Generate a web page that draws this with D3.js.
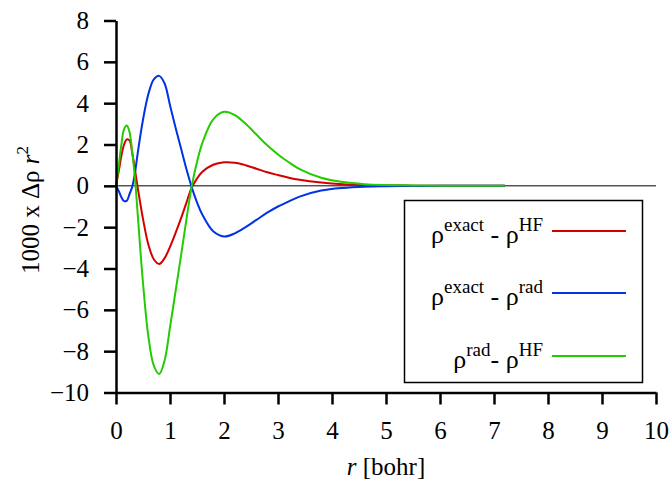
<!DOCTYPE html>
<html>
<head>
<meta charset="utf-8">
<script src="https://cdn.jsdelivr.net/npm/d3@7"></script>
<style>
  body { margin: 0; background: #fff; }
  svg, svg text { font-family: "Liberation Serif", "Times New Roman", Times, serif; }
</style>
</head>
<body>
<svg width="671" height="485"></svg>
<script>
// r values (bohr) shared by the three curves
const rVals = [0, 0.05, 0.1, 0.15, 0.2, 0.25, 0.3, 0.35, 0.4, 0.5, 0.6, 0.7, 0.8, 0.9, 1.0, 1.1, 1.2, 1.3, 1.4, 1.5, 1.6, 1.8, 2.0, 2.2, 2.4, 2.6, 2.8, 3.0, 3.2, 3.4, 3.8, 4.2, 4.6, 5.0, 5.5, 6.0, 6.5, 7.0, 7.2];

const exactMinusHF = [0, 0.7, 1.45, 2.0, 2.25, 2.2, 1.6, 0.8, -0.05, -1.6, -2.85, -3.55, -3.78, -3.5, -2.95, -2.3, -1.6, -0.85, -0.1, 0.35, 0.68, 1.02, 1.14, 1.12, 1.0, 0.83, 0.66, 0.52, 0.39, 0.29, 0.16, 0.08, 0.04, 0.02, 0.01, 0, 0, 0, 0];
const exactMinusRad = [0, -0.25, -0.55, -0.74, -0.72, -0.4, -0.05, 0.6, 1.55, 3.2, 4.45, 5.15, 5.32, 4.95, 3.9, 2.85, 1.85, 0.85, -0.05, -0.8, -1.4, -2.2, -2.45, -2.3, -2.0, -1.65, -1.3, -1.0, -0.75, -0.52, -0.23, -0.1, -0.04, -0.02, -0.01, 0, 0, 0, 0];
const radMinusHF = [0, 0.95, 2.0, 2.74, 2.92, 2.6, 1.65, 0.4, -1.3, -4.7, -7.3, -8.7, -9.1, -8.45, -6.85, -5.15, -3.45, -1.7, -0.05, 1.15, 2.08, 3.22, 3.58, 3.42, 3.0, 2.48, 1.96, 1.52, 1.14, 0.81, 0.39, 0.18, 0.08, 0.04, 0.02, 0, 0, 0, 0];

const xTicks = [0, 1, 2, 3, 4, 5, 6, 7, 8, 9, 10];
const yTicks = [-10, -8, -6, -4, -2, 0, 2, 4, 6, 8];

const series = [
  { name: ["exact", " - ρ", "HF"], values: exactMinusHF, color: "#d40000" },
  { name: ["exact", " - ρ", "rad"], values: exactMinusRad, color: "#0033e6" },
  { name: ["rad", "- ρ", "HF"], values: radMinusHF, color: "#22cc00" }
];

const svg = d3.select("svg");

const x = d3.scaleLinear().domain([0, 10]).range([116, 656]);
const y = d3.scaleLinear().domain([-10, 8]).range([392.5, 20.5]);

// zero line
svg.append("line")
  .attr("x1", x(0)).attr("x2", x(10))
  .attr("y1", y(0)).attr("y2", y(0))
  .attr("stroke", "#000").attr("stroke-width", 1);

const line = d3.line()
  .x((d, i) => x(rVals[i]))
  .y(d => y(d))
  .curve(d3.curveCatmullRom.alpha(0.5));

series.forEach(s => {
  svg.append("path")
    .attr("d", line(s.values))
    .attr("fill", "none")
    .attr("stroke", s.color)
    .attr("stroke-width", 2);
});

// axes
const xAxis = svg.append("g")
  .attr("transform", `translate(0,${y(-10)})`)
  .call(d3.axisBottom(x).tickValues(xTicks).tickSizeInner(12).tickSizeOuter(0).tickPadding(17));
const yAxis = svg.append("g")
  .attr("transform", `translate(${x(0)},0)`)
  .call(d3.axisLeft(y).tickValues(yTicks).tickSizeInner(12).tickSizeOuter(0).tickPadding(15));

[xAxis, yAxis].forEach(g => {
  g.attr("font-size", 25);
  g.select(".domain").attr("stroke-width", 2.5);
  g.selectAll(".tick line").attr("stroke-width", 2.5);
  g.selectAll(".tick text").attr("fill", "#000");
});

// axis titles
const xt = svg.append("text")
  .attr("x", 386).attr("y", 475)
  .attr("text-anchor", "middle")
  .attr("font-size", 25);
xt.append("tspan").attr("font-style", "italic").text("r");
xt.append("tspan").text(" [bohr]");

const yt = svg.append("text")
  .attr("transform", "translate(39,210) rotate(-90)")
  .attr("text-anchor", "middle")
  .attr("font-size", 25);
yt.append("tspan").text("1000 x Δρ ");
yt.append("tspan").attr("font-style", "italic").text("r");
yt.append("tspan").attr("font-size", 17).attr("dy", -11).text("2");

// legend
svg.append("rect")
  .attr("x", 404.5).attr("y", 200.5)
  .attr("width", 238).attr("height", 182)
  .attr("fill", "#fff").attr("stroke", "#000").attr("stroke-width", 1.5);

const legendY = [231, 293, 356];
series.forEach((s, i) => {
  const ly = legendY[i];
  svg.append("line")
    .attr("x1", 552).attr("x2", 626)
    .attr("y1", ly).attr("y2", ly)
    .attr("stroke", s.color).attr("stroke-width", 2);
  const t = svg.append("text")
    .attr("x", 543).attr("y", ly + 12)
    .attr("text-anchor", "end")
    .attr("font-size", 26);
  t.append("tspan").text("ρ");
  t.append("tspan").attr("font-size", 19).attr("dy", -12).text(s.name[0]);
  t.append("tspan").attr("dy", 12).text(s.name[1]);
  t.append("tspan").attr("font-size", 19).attr("dy", -12).text(s.name[2]);
});
</script>
</body>
</html>
